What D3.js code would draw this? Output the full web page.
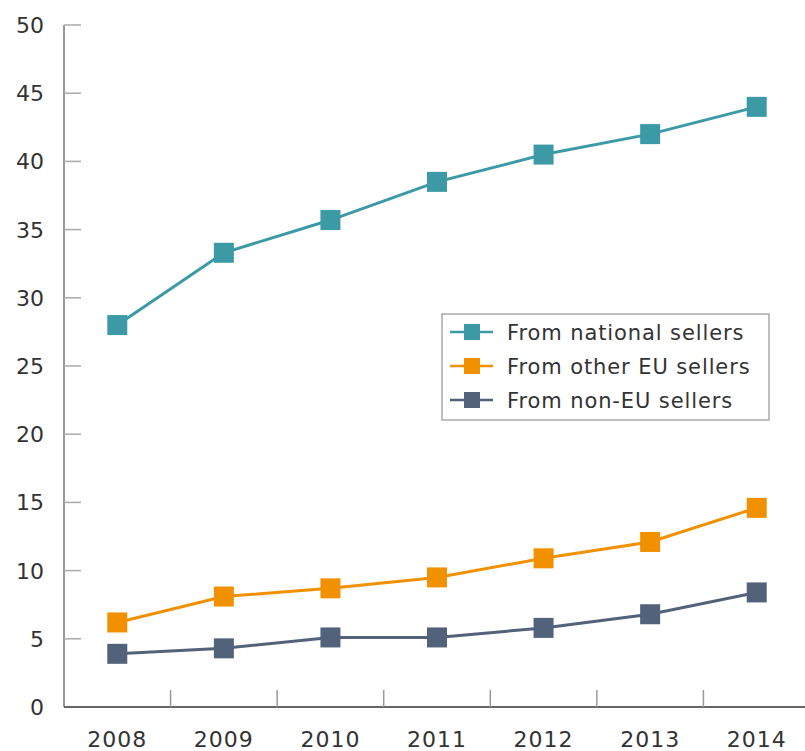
<!DOCTYPE html>
<html>
<head>
<meta charset="utf-8">
<script src="https://cdn.jsdelivr.net/npm/d3@7"></script>
<style>
  body { margin: 0; background: #fff; }
  text { font-family: "DejaVu Sans", sans-serif; fill: #333; }
</style>
</head>
<body>
<div id="chart"></div>
<script>
// data
const years = ["2008", "2009", "2010", "2011", "2012", "2013", "2014"];
const national = [28.0, 33.3, 35.7, 38.5, 40.5, 42.0, 44.0];
const otherEU = [6.2, 8.1, 8.7, 9.5, 10.9, 12.1, 14.6];
const nonEU = [3.9, 4.3, 5.1, 5.1, 5.8, 6.8, 8.4];
const yTicks = [0, 5, 10, 15, 20, 25, 30, 35, 40, 45, 50];
const seriesNames = ["From national sellers", "From other EU sellers", "From non-EU sellers"];

const width = 805, height = 751;
const colors = ["#3b9aa5", "#f29100", "#52627a"];
const series = [national, otherEU, nonEU];

const svg = d3.select("#chart").append("svg")
    .attr("width", width)
    .attr("height", height);

const x = d3.scaleBand().domain(years).range([64, 810]);
const y = d3.scaleLinear().domain([0, 50]).range([707, 25]);

// y axis: line + inward ticks
svg.append("line")
    .attr("x1", 64).attr("x2", 64)
    .attr("y1", y(50)).attr("y2", y(0))
    .attr("stroke", "#999").attr("stroke-width", 2);
svg.selectAll(".ytick")
    .data(yTicks.slice(1))
    .enter().append("line")
    .attr("x1", 64).attr("x2", 81)
    .attr("y1", d => y(d)).attr("y2", d => y(d))
    .attr("stroke", "#aaa").attr("stroke-width", 1.5);
svg.selectAll(".ylabel")
    .data(yTicks)
    .enter().append("text")
    .attr("x", 44)
    .attr("y", d => y(d))
    .attr("dy", "0.36em")
    .attr("text-anchor", "end")
    .attr("font-size", 22)
    .text(d => d);

// x axis: line, ticks between years, labels
svg.append("line")
    .attr("x1", 64).attr("x2", width)
    .attr("y1", y(0)).attr("y2", y(0))
    .attr("stroke", "#666").attr("stroke-width", 2);
svg.selectAll(".xtick")
    .data(years.slice(1))
    .enter().append("line")
    .attr("x1", d => x(d)).attr("x2", d => x(d))
    .attr("y1", y(0)).attr("y2", y(0) - 17)
    .attr("stroke", "#999").attr("stroke-width", 1.5);
svg.selectAll(".xlabel")
    .data(years)
    .enter().append("text")
    .attr("x", d => x(d) + x.bandwidth() / 2)
    .attr("y", 747)
    .attr("text-anchor", "middle")
    .attr("font-size", 22)
    .attr("letter-spacing", 1)
    .text(d => d);

// lines and square markers
const line = d3.line()
    .x((d, i) => x(years[i]) + x.bandwidth() / 2)
    .y(d => y(d));

series.forEach(function(s, k) {
    svg.append("path")
        .datum(s)
        .attr("fill", "none")
        .attr("stroke", colors[k])
        .attr("stroke-width", 3)
        .attr("d", line);
    svg.selectAll(".m" + k)
        .data(s)
        .enter().append("rect")
        .attr("x", (d, i) => x(years[i]) + x.bandwidth() / 2 - 10)
        .attr("y", d => y(d) - 10)
        .attr("width", 20)
        .attr("height", 20)
        .attr("fill", colors[k]);
});

// legend
const lg = svg.append("g").attr("transform", "translate(442,314)");
lg.append("rect")
    .attr("width", 327).attr("height", 106)
    .attr("fill", "#fff")
    .attr("stroke", "#aaa").attr("stroke-width", 1.5);
seriesNames.forEach(function(name, k) {
    const cy = 18 + k * 34;
    lg.append("line")
        .attr("x1", 8).attr("x2", 51)
        .attr("y1", cy).attr("y2", cy)
        .attr("stroke", colors[k]).attr("stroke-width", 2.5);
    lg.append("rect")
        .attr("x", 22).attr("y", cy - 8)
        .attr("width", 16).attr("height", 16)
        .attr("fill", colors[k]);
    lg.append("text")
        .attr("x", 65).attr("y", cy)
        .attr("dy", "0.36em")
        .attr("font-size", 21)
        .attr("letter-spacing", 0.9)
        .text(name);
});
</script>
</body>
</html>
